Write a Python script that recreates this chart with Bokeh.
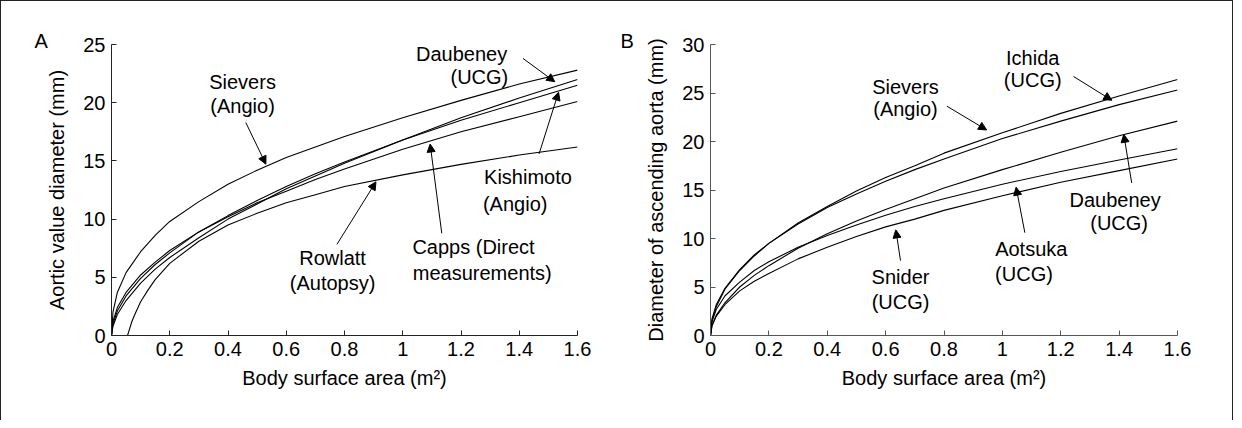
from bokeh.plotting import figure
from bokeh.models import Range1d, FixedTicker, Label, Arrow, NormalHead
from bokeh.layouts import row
from bokeh.embed import file_html
from bokeh.resources import INLINE

FONT = "Liberation Sans"

# ---------------- data ----------------
bsa = [0, 0.005, 0.02, 0.05, 0.1, 0.15, 0.2, 0.3, 0.4, 0.5, 0.6, 0.7, 0.8, 1.0, 1.2, 1.4, 1.6]

# Panel A: aortic valve diameter (mm)
sievers_a = [0, 2.0, 3.7, 5.4, 7.2, 8.6, 9.8, 11.5, 13.0, 14.2, 15.3, 16.2, 17.1, 18.7, 20.2, 21.6, 22.8]
daubeney_a = [0, 0.8, 1.8, 3.0, 4.5, 5.7, 6.7, 8.4, 10.0, 11.3, 12.6, 13.7, 14.8, 16.8, 18.7, 20.4, 22.0]
kishimoto_a = [0, 1.0, 2.1, 3.4, 4.9, 6.1, 7.1, 8.9, 10.3, 11.6, 12.8, 13.9, 14.9, 16.8, 18.5, 20.0, 21.5]
capps_a = [0, 1.2, 2.4, 3.7, 5.2, 6.3, 7.3, 8.9, 10.2, 11.4, 12.4, 13.4, 14.3, 16.0, 17.5, 18.8, 20.1]
bsa_rowlatt = [0.055, 0.06, 0.07, 0.08, 0.1, 0.125, 0.15, 0.2, 0.3, 0.4, 0.5, 0.6, 0.7, 0.8, 1.0, 1.2, 1.4, 1.6]
rowlatt_a = [0, 0.4, 1.2, 1.8, 2.9, 3.9, 4.8, 6.2, 8.1, 9.5, 10.5, 11.4, 12.1, 12.8, 13.8, 14.7, 15.5, 16.2]

# Panel B: diameter of ascending aorta (mm)
sievers_b = [0, 1.5, 3.0, 4.8, 6.7, 8.2, 9.5, 11.6, 13.3, 14.9, 16.3, 17.5, 18.8, 20.9, 22.9, 24.7, 26.4]
ichida_b = [0, 1.7, 3.2, 4.9, 6.8, 8.3, 9.5, 11.5, 13.2, 14.6, 15.9, 17.1, 18.2, 20.3, 22.1, 23.8, 25.3]
daubeney_b = [0, 1.0, 2.1, 3.4, 5.0, 6.2, 7.2, 9.0, 10.5, 11.8, 13.0, 14.1, 15.2, 17.1, 18.9, 20.6, 22.1]
aotsuka_b = [0, 1.4, 2.7, 4.1, 5.5, 6.7, 7.6, 9.1, 10.3, 11.4, 12.4, 13.3, 14.1, 15.6, 16.9, 18.1, 19.25]
snider_b = [0, 1.0, 2.0, 3.2, 4.6, 5.6, 6.4, 7.9, 9.1, 10.2, 11.2, 12.0, 12.9, 14.4, 15.8, 17.0, 18.2]

x_ticks = [0, 0.2, 0.4, 0.6, 0.8, 1.0, 1.2, 1.4, 1.6]
x_tick_labels = ["0", "0.2", "0.4", "0.6", "0.8", "1", "1.2", "1.4", "1.6"]
y_ticks_a = [0, 5, 10, 15, 20, 25]
y_ticks_b = [0, 5, 10, 15, 20, 25, 30]

# annotation texts (text, x, y) in data units
texts_a = [
    ("Sievers", 0.45, 21.8), ("(Angio)", 0.45, 19.75),
    ("Daubeney", 1.202, 24.2), ("(UCG)", 1.263, 22.2),
    ("Kishimoto", 1.43, 13.6), ("(Angio)", 1.386, 11.3),
    ("Rowlatt", 0.759, 6.68), ("(Autopsy)", 0.759, 4.53),
    ("Capps (Direct", 1.243, 7.57), ("measurements)", 1.273, 5.41),
]
arrows_a = [  # x_start, y_start, x_end, y_end
    (0.461, 18.3, 0.53, 14.72),
    (1.413, 23.8, 1.522, 21.8),
    (1.468, 15.6, 1.535, 20.9),
    (0.774, 7.83, 0.908, 13.2),
    (1.134, 8.78, 1.094, 16.45),
]
texts_b = [
    ("Ichida", 1.104, 28.58), ("(UCG)", 1.104, 26.3),
    ("Sievers", 0.668, 25.58), ("(Angio)", 0.668, 23.3),
    ("Daubeney", 1.386, 13.93), ("(UCG)", 1.40, 11.64),
    ("Aotsuka", 1.099, 8.91), ("(UCG)", 1.074, 6.36),
    ("Snider", 0.651, 6.08), ("(UCG)", 0.651, 3.46),
]
arrows_b = [
    (1.244, 26.7, 1.375, 24.25),
    (0.81, 23.64, 0.946, 21.19),
    (1.443, 15.73, 1.416, 20.74),
    (1.077, 10.6, 1.047, 15.29),
    (0.651, 7.72, 0.635, 10.89),
]


def make_panel(width, height, borders, y_max, y_ticks, y_label, axis_color, letter, letter_offset):
    p = figure(width=width, height=height, output_backend="svg", toolbar_location=None,
               x_range=Range1d(0, 1.6), y_range=Range1d(0, y_max),
               min_border_left=borders[0], min_border_right=borders[1],
               min_border_top=borders[2], min_border_bottom=borders[3])
    p.grid.visible = False
    p.outline_line_color = None
    p.background_fill_color = "white"
    p.border_fill_color = "white"
    p.title.text = letter
    p.title.text_font = FONT
    p.title.text_font_size = "20px"
    p.title.text_font_style = "normal"
    p.title.text_color = "black"
    p.title.align = "left"
    p.title.offset = letter_offset
    p.title.vertical_align = "bottom"
    p.title.standoff = -15
    p.xaxis.ticker = FixedTicker(ticks=x_ticks)
    p.xaxis.major_label_overrides = {t: l for t, l in zip(x_ticks, x_tick_labels)}
    p.yaxis.ticker = FixedTicker(ticks=y_ticks)
    p.xaxis.axis_label = "Body surface area (m²)"
    p.yaxis.axis_label = y_label
    for ax in (p.xaxis, p.yaxis):
        ax.axis_line_color = axis_color
        ax.axis_line_width = 1
        ax.major_tick_line_color = axis_color
        ax.major_tick_in = 5
        ax.major_tick_out = 0
        ax.minor_tick_line_color = None
        ax.major_label_text_font = FONT
        ax.major_label_text_font_size = "20px"
        ax.major_label_text_color = "black"
        ax.axis_label_text_font = FONT
        ax.axis_label_text_font_size = "20px"
        ax.axis_label_text_font_style = "normal"
        ax.axis_label_text_color = "black"
        ax.major_label_standoff = 6
    p.xaxis.axis_label_standoff = 8
    p.yaxis.axis_label_standoff = 12
    return p


def annotate(p, texts, arrows):
    for t, x, y in texts:
        p.add_layout(Label(x=x, y=y, text=t, text_font=FONT, text_font_size="20px",
                           text_color="black", text_align="center", text_baseline="middle"))
    for xs, ys, xe, ye in arrows:
        p.add_layout(Arrow(x_start=xs, y_start=ys, x_end=xe, y_end=ye, line_width=1,
                           line_color="black",
                           end=NormalHead(size=8, fill_color="black", line_color="black", line_width=1)))


pA = make_panel(611, 419, (110, 35, 43, 85), 25, y_ticks_a, "Aortic value diameter (mm)", "#222222", "A", -77)
for ys in (sievers_a, daubeney_a, kishimoto_a, capps_a):
    pA.line(bsa, ys, line_color="black", line_width=1.1)
pA.line(bsa_rowlatt, rowlatt_a, line_color="black", line_width=1.1)
annotate(pA, texts_a, arrows_a)

pB = make_panel(620, 419, (98, 55, 42, 83), 30, y_ticks_b, "Diameter of ascending aorta (mm)", "#555555", "B", -90)
for ys in (sievers_b, ichida_b, daubeney_b, aotsuka_b, snider_b):
    pB.line(bsa, ys, line_color="black", line_width=1.1)
annotate(pB, texts_b, arrows_b)

layout = row(pA, pB)
layout.styles = {"border-top": "1px solid #222", "border-left": "1px solid #222",
                 "border-right": "1px solid #222"}

open("out.html", "w").write(file_html(layout, INLINE))
